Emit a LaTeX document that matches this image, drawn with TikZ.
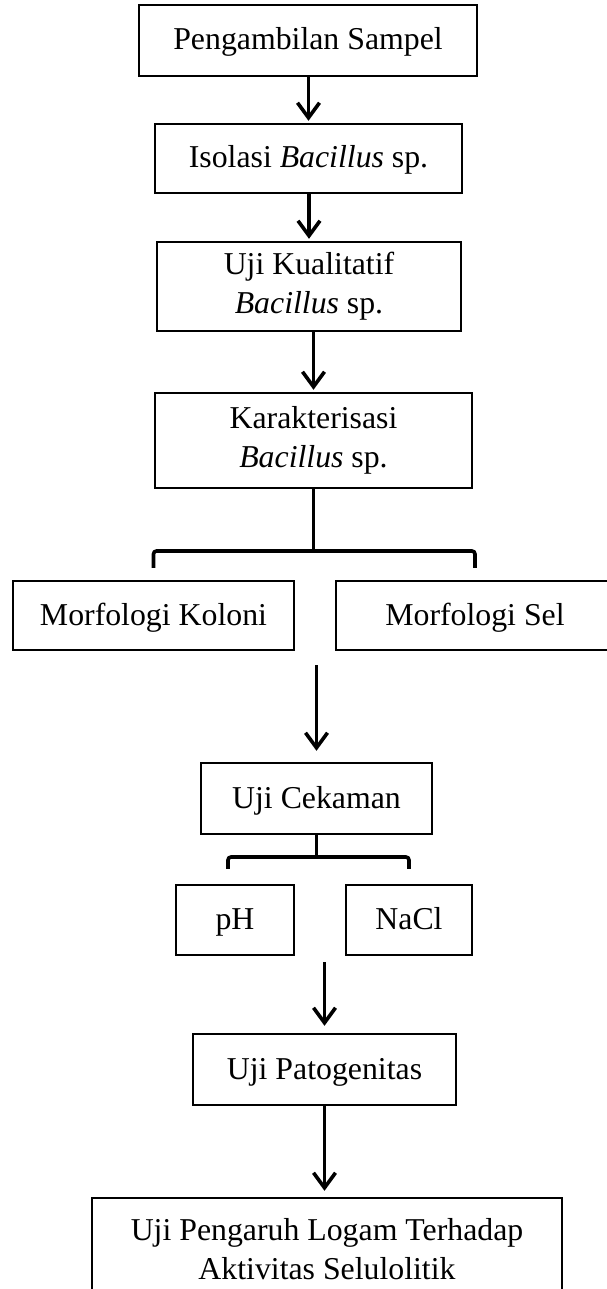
\documentclass[tikz,border=0pt]{standalone}
\usepackage{fontspec}
\setmainfont{Liberation Serif}
\usetikzlibrary{arrows.meta}

\tikzset{
  kotak/.style={draw, line width=2.4pt, align=center, inner sep=0pt,
    font=\fontsize{31.8pt}{39pt}\selectfont},
  satu/.style={kotak, text height=24pt, text depth=5pt},
  garis/.style={line width=3.6pt},
  cabang/.style={garis, rounded corners=3pt},
  panah/.style={garis, -{Straight Barb[length=15pt,width=22pt]}}
}

\begin{document}
\begin{tikzpicture}[x=1pt, y=-1pt]
  \useasboundingbox (0,0) rectangle (606,1289);

  % Nodes
  \node[satu, minimum width=338pt, minimum height=71pt] (P1) at (308,40.5) {Pengambilan Sampel};
  \node[satu, minimum width=307pt, minimum height=69pt] (P2) at (308.5,158.5) {Isolasi \textit{Bacillus} sp.};
  \node[kotak, minimum width=304pt, minimum height=89pt] (P3) at (309,286.5) {Uji Kualitatif\\\textit{Bacillus} sp.};
  \node[kotak, minimum width=317pt, minimum height=95pt] (P4) at (313.5,440.5) {Karakterisasi\\\textit{Bacillus} sp.};
  \node[satu, minimum width=281pt, minimum height=69pt] (koloni) at (153.5,615.5) {Morfologi Koloni};
  \node[satu, minimum width=278pt, minimum height=69pt] (sel) at (475,615.5) {Morfologi Sel};
  \node[satu, minimum width=231pt, minimum height=71pt] (cekam) at (316.5,798.5) {Uji Cekaman};
  \node[satu, minimum width=118pt, minimum height=70pt] (ph) at (235,920) {pH};
  \node[satu, minimum width=126pt, minimum height=70pt] (nacl) at (409,920) {NaCl};
  \node[satu, minimum width=263pt, minimum height=71pt] (pato) at (324.5,1069.5) {Uji Patogenitas};
  \node[kotak, minimum width=470pt, minimum height=103pt] (logam) at (327,1249.5) {Uji Pengaruh Logam Terhadap\\Aktivitas Selulolitik};

  % free ends of the arrows
  \coordinate (a1) at (316.5,665);
  \coordinate (a2) at (324.5,962);
  \coordinate (f1) at (313.5,551);
  \coordinate (f2) at (316.5,857);

  % Arrows
  \foreach \a/\b in {P1/P2, P2/P3, P3/P4}
    \draw[panah, shorten >=2pt] (\b.north |- \a.south) -- (\b.north);
  \draw[panah, shorten >=11pt] (a1) -- (cekam.north);
  \draw[panah, shorten >=7pt] (a2) -- (pato.north);
  \draw[panah, shorten >=6pt] (pato.south) -- (pato.south |- logam.north);

  % Branches
  \draw[garis] (P4.south) -- (f1);
  \draw[cabang] ([yshift=12pt]koloni.north) |- (f1) -| ([yshift=12pt]sel.north);
  \draw[garis] (cekam.south) -- (f2);
  \draw[cabang] ([xshift=-7pt,yshift=15pt]ph.north) |- (f2) -| ([yshift=15pt]nacl.north);

\end{tikzpicture}
\end{document}
